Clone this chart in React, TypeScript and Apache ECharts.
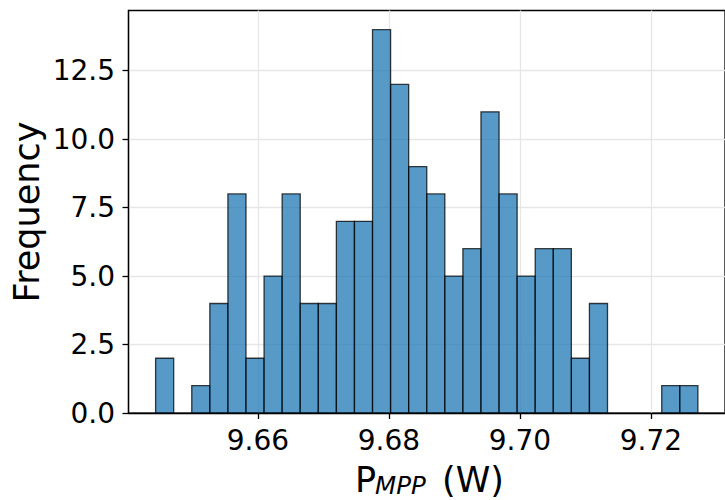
import React, { useEffect, useRef } from "react";
import * as echarts from "echarts";

// Histogram of P_MPP (W), 30 bins
const binStart = 9.64439;
const binEnd = 9.72717;
const counts = [2, 0, 1, 4, 8, 2, 5, 8, 4, 4, 7, 7, 14, 12, 9, 8, 5, 6, 11, 8, 5, 6, 6, 2, 4, 0, 0, 0, 1, 1];
const xTicks = [9.66, 9.68, 9.7, 9.72];
const yTicks = [0, 2.5, 5, 7.5, 10, 12.5];
const yTitle = "Frequency";
const xTitleMain = "P";
const xTitleSub = "MPP";
const xTitleUnit = "(W)";

const FONT = "DejaVu Sans";

export default function App() {
  const ref = useRef<HTMLDivElement>(null);
  useEffect(() => {
    if (!ref.current) return;
    const chart = echarts.init(ref.current, null, { renderer: "svg" });
    const n = counts.length;
    const w = (binEnd - binStart) / n;
    const data = counts.map((c, i) => [binStart + i * w, binStart + (i + 1) * w, c]);
    const span = binEnd - binStart;
    const xMin = binStart - 0.05 * span;
    const xMax = binEnd + 0.05 * span;
    const yMax = Math.max(...counts) * 1.05;

    chart.setOption({
      animation: false,
      backgroundColor: "#ffffff",
      grid: {
        left: 128.5,
        right: -4.6,
        top: 10.5,
        bottom: 87,
        show: true,
        borderColor: "#000",
        borderWidth: 1.3,
        backgroundColor: "transparent",
      },
      xAxis: {
        type: "value",
        min: xMin,
        max: xMax,
        axisLine: { show: true, onZero: false, lineStyle: { color: "#000", width: 1.3 } },
        axisTick: { show: true, length: 6, customValues: xTicks, lineStyle: { color: "#000", width: 1.3 } },
        axisLabel: {
          customValues: xTicks,
          formatter: (v: number) => v.toFixed(2),
          fontFamily: FONT,
          fontSize: 28,
          color: "#000",
          margin: 13,
        },
        splitLine: { show: true, lineStyle: { color: "#e6e6e6", width: 1.3 } },
      },
      yAxis: {
        type: "value",
        min: 0,
        max: yMax,
        axisLine: { show: true, lineStyle: { color: "#000", width: 1.3 } },
        axisTick: { show: true, length: 6, customValues: yTicks, lineStyle: { color: "#000", width: 1.3 } },
        axisLabel: {
          customValues: yTicks,
          formatter: (v: number) => v.toFixed(1),
          fontFamily: FONT,
          fontSize: 28,
          color: "#000",
          margin: 13.5,
        },
        splitLine: { show: true, lineStyle: { color: "#e6e6e6", width: 1.3 } },
      },
      series: [
        {
          type: "custom",
          data,
          encode: { x: [0, 1], y: 2 },
          renderItem: (params: any, api: any) => {
            const c = api.value(2);
            if (!c) return null;
            const tl = api.coord([api.value(0), c]);
            const br = api.coord([api.value(1), 0]);
            return {
              type: "rect",
              shape: { x: tl[0], y: tl[1], width: br[0] - tl[0], height: br[1] - tl[1] },
              style: { fill: "rgba(31,119,180,0.75)", stroke: "rgba(0,0,0,0.75)", lineWidth: 1.3 },
            };
          },
        },
      ],
      graphic: [
        {
          type: "text",
          x: 27,
          y: 212,
          rotation: Math.PI / 2,
          style: { text: yTitle, fontFamily: FONT, fontSize: 35, fill: "#000", align: "center", verticalAlign: "middle" },
        },
        {
          type: "text",
          x: 355,
          y: 480,
          style: { text: xTitleMain, fontFamily: FONT, fontSize: 35, fill: "#000", align: "left", verticalAlign: "middle" },
        },
        {
          type: "text",
          x: 375,
          y: 485.5,
          style: { text: xTitleSub, fontFamily: FONT, fontStyle: "italic", fontSize: 24.5, fill: "#000", align: "left", verticalAlign: "middle" },
        },
        {
          type: "text",
          x: 442,
          y: 480,
          style: { text: xTitleUnit, fontFamily: FONT, fontSize: 35, fill: "#000", align: "left", verticalAlign: "middle" },
        },
      ],
    });
    return () => chart.dispose();
  }, []);
  return <div ref={ref} style={{ position: "fixed", left: 0, top: 0, width: 725, height: 500 }} />;
}
